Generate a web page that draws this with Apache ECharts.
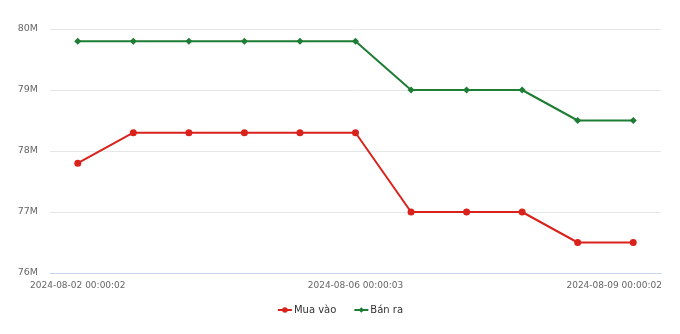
<!DOCTYPE html>
<html>
<head>
<meta charset="utf-8">
<script src="https://cdn.jsdelivr.net/npm/echarts@6/dist/echarts.min.js"></script>
<style>html,body{margin:0;padding:0;background:#fff}#c{width:680px;height:334px}</style>
</head>
<body>
<div id="c"></div>
<script>
const categories = [
  "2024-08-02 00:00:02","2024-08-03 00:00:02","2024-08-04 00:00:02","2024-08-05 00:00:02",
  "2024-08-05 12:00:02","2024-08-06 00:00:03","2024-08-07 00:00:02","2024-08-07 12:00:02",
  "2024-08-08 00:00:02","2024-08-08 12:00:02","2024-08-09 00:00:02"
];
const muaVao = [77.8, 78.3, 78.3, 78.3, 78.3, 78.3, 77.0, 77.0, 77.0, 76.5, 76.5];
const banRa  = [79.8, 79.8, 79.8, 79.8, 79.8, 79.8, 79.0, 79.0, 79.0, 78.5, 78.5];
const seriesNames = ["Mua vào", "Bán ra"];

const FONT = "DejaVu Sans";
const chart = echarts.init(document.getElementById('c'), null, {renderer: 'canvas'});
chart.setOption({
  animation: false,
  grid: {left: 50, right: 19, top: 29, bottom: 61},
  legend: {
    bottom: 14, left: 'center', itemWidth: 14, itemHeight: 7, itemGap: 17,
    textStyle: {fontFamily: FONT, fontSize: 10, color: '#333', padding: [0, 0, 0, -3]},
    data: seriesNames
  },
  xAxis: {
    type: 'category', data: categories, boundaryGap: true,
    axisLine: {lineStyle: {color: '#ccd6eb'}},
    axisTick: {show: false},
    axisLabel: {
      interval: 4, color: '#666', fontFamily: FONT, fontSize: 9, margin: 8,
      formatter: function (v, i) { return i === categories.length - 1 ? '{r|' + v + '}' : v; },
      rich: {r: {padding: [0, 38, 0, 0], color: '#666', fontFamily: FONT, fontSize: 9}}
    }
  },
  yAxis: {
    type: 'value', min: 76, max: 80, interval: 1,
    axisLine: {show: false}, axisTick: {show: false},
    splitLine: {lineStyle: {color: '#e6e6e6'}},
    axisLabel: {color: '#666', fontFamily: FONT, fontSize: 9.5, margin: 12,
      formatter: function (v) { return v + 'M'; }}
  },
  series: [
    {name: seriesNames[0], type: 'line', data: muaVao, symbol: 'circle', symbolSize: 7,
     color: '#d9221c', lineStyle: {width: 2}},
    {name: seriesNames[1], type: 'line', data: banRa, symbol: 'diamond', symbolSize: 7,
     color: '#1e7d34', lineStyle: {width: 2}}
  ]
});
</script>
</body>
</html>
